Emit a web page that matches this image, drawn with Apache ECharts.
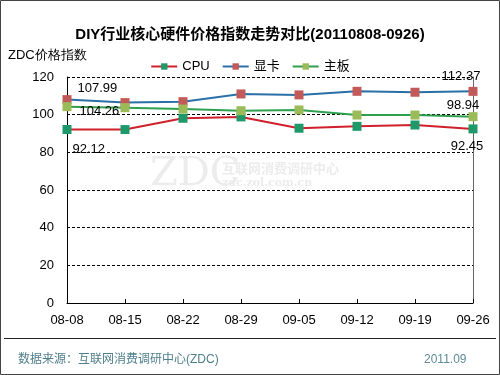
<!DOCTYPE html>
<html>
<head>
<meta charset="utf-8">
<script src="https://cdn.jsdelivr.net/npm/echarts@6/dist/echarts.min.js"></script>
<style>html,body{margin:0;padding:0;background:#fff;}#c{width:500px;height:375px;}</style>
</head>
<body>
<div id="c"></div>
<script>
var categories = ['08-08','08-15','08-22','08-29','09-05','09-12','09-19','09-26'];
var cpu = [92.12, 92.1, 98.1, 98.8, 92.8, 93.8, 94.5, 92.45];
var gpu = [107.99, 106.4, 106.9, 111.0, 110.5, 112.4, 111.9, 112.37];
var board = [104.26, 103.7, 103.0, 102.1, 102.5, 99.8, 99.8, 98.94];
var seriesNames = ['CPU', '显卡', '主板'];
var yTicks = [0, 20, 40, 60, 80, 100, 120];

var FONT = '"Liberation Sans", Arial, "Noto Sans CJK SC", sans-serif';
var labelBase = { show: true, color: '#000', fontSize: 13, fontFamily: FONT };

function build(values, firstLbl, lastLbl) {
  return values.map(function (v, i) {
    if (i === 0) return { value: v, label: Object.assign({}, labelBase, firstLbl) };
    if (i === values.length - 1) return { value: v, label: Object.assign({}, labelBase, lastLbl) };
    return v;
  });
}

var chart = echarts.init(document.getElementById('c'));
chart.setOption({
  animation: false,
  backgroundColor: '#fff',
  title: {
    text: 'DIY行业核心硬件价格指数走势对比(20110808-0926)',
    left: 'center', top: 22,
    textStyle: { fontSize: 15, fontWeight: 'bold', color: '#000', fontFamily: FONT }
  },
  legend: {
    data: seriesNames,
    top: 55, left: 'center',
    itemWidth: 26, itemHeight: 8, itemGap: 12,
    textStyle: { fontSize: 13, color: '#000', fontFamily: FONT }
  },
  grid: { left: 67, right: 27, top: 77, bottom: 72, containLabel: false },
  xAxis: {
    type: 'category', data: categories, boundaryGap: false,
    axisLine: { lineStyle: { color: '#000', width: 1 } },
    axisTick: { show: true, inside: true, length: 4, lineStyle: { color: '#000' } },
    axisLabel: { color: '#000', fontSize: 13, margin: 11, fontFamily: FONT, interval: 0 }
  },
  yAxis: [{
    type: 'value', min: yTicks[0], max: yTicks[yTicks.length - 1], interval: 20,
    axisLine: { show: true, lineStyle: { color: '#000' } },
    axisTick: { show: false },
    axisLabel: { color: '#000', fontSize: 13, margin: 13, fontFamily: FONT },
    splitLine: { show: true, lineStyle: { color: '#000', type: [3, 2], width: 1 } }
  }, {
    type: 'value', min: 0, max: 120, interval: 20, position: 'right',
    axisLine: { show: true, lineStyle: { color: '#666' } },
    axisTick: { show: false }, axisLabel: { show: false }, splitLine: { show: false }
  }],
  series: [{
    name: 'CPU', type: 'line', symbol: 'rect', symbolSize: 9,
    lineStyle: { color: '#d0202c', width: 2 },
    itemStyle: { color: '#1e9a6a' },
    data: build(cpu, { position: 'right', distance: 1, offset: [0, 20] },
                     { position: 'bottom', distance: 7, offset: [-6, 0] })
  }, {
    name: '显卡', type: 'line', symbol: 'rect', symbolSize: 9,
    lineStyle: { color: '#2a70a8', width: 2 },
    itemStyle: { color: '#c25a5a' },
    data: build(gpu, { position: 'right', distance: 6, offset: [0, -11] },
                     { position: 'top', distance: 4, offset: [-12, 0] })
  }, {
    name: '主板', type: 'line', symbol: 'rect', symbolSize: 9,
    lineStyle: { color: '#2ea04e', width: 2 },
    itemStyle: { color: '#9bbb59' },
    data: build(board, { position: 'right', distance: 8, offset: [0, 5] },
                       { position: 'top', distance: 0, offset: [-10, 0] })
  }],
  graphic: [
    { type: 'rect', z: -1, shape: { x: 0.5, y: 0.5, width: 499, height: 374 },
      style: { fill: null, stroke: '#444', lineWidth: 1 } },
    { type: 'line', shape: { x1: 4, y1: 338.5, x2: 496, y2: 338.5 },
      style: { stroke: '#222', lineWidth: 1 } },
    { type: 'text', left: 8, top: 49,
      style: { text: 'ZDC价格指数', fontSize: 13, fill: '#000', font: '13px ' + FONT } },
    { type: 'text', left: 18, top: 354,
      style: { text: '数据来源：互联网消费调研中心(ZDC)', fill: '#4f7f8c', font: '12px ' + FONT } },
    { type: 'text', left: 424, top: 354,
      style: { text: '2011.09', fill: '#5f8a96', font: '12px ' + FONT } },
    { type: 'text', left: 150, top: 155, z: 0,
      style: { text: 'ZDC', fill: '#ececec', font: '40px "DejaVu Serif", serif' } },
    { type: 'text', left: 222, top: 162, z: 0,
      style: { text: '互联网消费调研中心', fill: '#ececec', font: 'bold 13px "Noto Sans CJK SC", sans-serif' } },
    { type: 'text', left: 222, top: 178, z: 0,
      style: { text: 'zdc.zol.com.cn', fill: '#ececec', font: 'bold 11px "DejaVu Serif", serif' } }
  ]
});
</script>
</body>
</html>
